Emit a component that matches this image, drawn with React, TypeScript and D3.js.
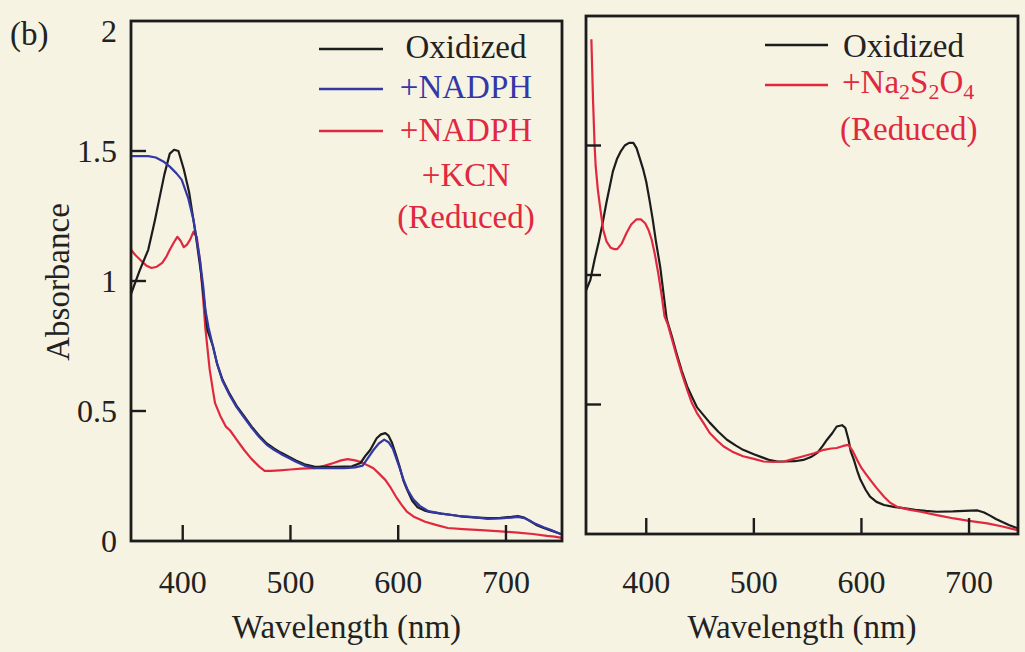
import React from "react";
import { scaleLinear, line } from "d3";

// wavelength (nm), absorbance pairs
const leftOxidized: [number, number][] = [
  [352, 0.95], [360, 1.04], [368, 1.12], [374, 1.23], [378, 1.31], [383, 1.41],
  [388, 1.49], [392, 1.505], [396, 1.5], [401, 1.43], [406, 1.34], [412, 1.18],
  [417, 1.03], [420, 0.92], [423, 0.81], [428, 0.75], [432, 0.68], [437, 0.62],
  [443, 0.57], [450, 0.52], [457, 0.48], [464, 0.44], [471, 0.405], [478, 0.375],
  [485, 0.355], [491, 0.34], [498, 0.325], [505, 0.31], [513, 0.295], [522, 0.286],
  [530, 0.285], [540, 0.285], [550, 0.286], [557, 0.287], [565, 0.3], [570, 0.33],
  [574, 0.35], [580, 0.395], [584, 0.41], [588, 0.415], [591, 0.405], [594, 0.38],
  [598, 0.33], [601, 0.29], [605, 0.23], [608, 0.2], [613, 0.155], [618, 0.13],
  [624, 0.118], [629, 0.112], [640, 0.105], [650, 0.1], [660, 0.094], [670, 0.091],
  [683, 0.088], [695, 0.089], [705, 0.093], [711, 0.096], [717, 0.09], [722, 0.078],
  [728, 0.062], [735, 0.05], [742, 0.04], [749, 0.03], [752, 0.025],
];

const leftNadph: [number, number][] = [
  [352, 1.48], [360, 1.48], [368, 1.48], [375, 1.475], [382, 1.46], [388, 1.44],
  [394, 1.415], [399, 1.39], [405, 1.32], [410, 1.235], [416, 1.08], [419, 0.98],
  [421, 0.89], [424, 0.82], [428, 0.75], [432, 0.68], [437, 0.615], [443, 0.565],
  [450, 0.515], [457, 0.475], [464, 0.435], [471, 0.4], [478, 0.37], [485, 0.35],
  [491, 0.335], [498, 0.32], [505, 0.305], [513, 0.29], [522, 0.28], [530, 0.28],
  [540, 0.28], [550, 0.28], [560, 0.283], [567, 0.29], [572, 0.32], [577, 0.35],
  [582, 0.375], [587, 0.39], [591, 0.38], [595, 0.355], [598, 0.32], [601, 0.285],
  [605, 0.235], [609, 0.195], [614, 0.16], [620, 0.135], [628, 0.115], [640, 0.105],
  [655, 0.097], [670, 0.092], [683, 0.085], [695, 0.087], [705, 0.09], [711, 0.093],
  [717, 0.088], [722, 0.078], [728, 0.065], [735, 0.053], [742, 0.042], [749, 0.03],
  [752, 0.025],
];

const leftKcn: [number, number][] = [
  [352, 1.12], [356, 1.1], [361, 1.08], [366, 1.06], [371, 1.05], [376, 1.055],
  [381, 1.07], [385, 1.095], [388, 1.12], [392, 1.15], [395, 1.17], [398, 1.155],
  [401, 1.13], [404, 1.14], [407, 1.16], [410, 1.19], [413, 1.17], [416, 1.08],
  [419, 0.93], [421, 0.82], [423, 0.74], [425, 0.66], [428, 0.58], [430, 0.53],
  [435, 0.48], [440, 0.44], [444, 0.425], [450, 0.39], [457, 0.35], [464, 0.315],
  [471, 0.286], [476, 0.27], [482, 0.27], [490, 0.272], [500, 0.275], [510, 0.278],
  [522, 0.28], [532, 0.29], [540, 0.3], [547, 0.31], [553, 0.315], [560, 0.31],
  [566, 0.303], [572, 0.29], [577, 0.28], [582, 0.26], [588, 0.235], [593, 0.205],
  [598, 0.17], [603, 0.14], [608, 0.113], [615, 0.092], [625, 0.074], [635, 0.062],
  [646, 0.05], [660, 0.046], [677, 0.042], [695, 0.037], [711, 0.032], [725, 0.027],
  [738, 0.02], [745, 0.017], [752, 0.012],
];

const rightOxidized: [number, number][] = [
  [344, 0.94], [348, 0.98], [352, 1.06], [356, 1.13], [359, 1.19], [363, 1.28],
  [366, 1.34], [369, 1.4], [373, 1.45], [376, 1.475], [380, 1.5], [384, 1.51],
  [388, 1.51], [391, 1.49], [394, 1.45], [397, 1.41], [400, 1.36], [403, 1.29],
  [406, 1.215], [409, 1.13], [413, 1.03], [416, 0.93], [419, 0.83], [424, 0.76],
  [428, 0.7], [433, 0.63], [438, 0.57], [443, 0.525], [447, 0.49], [453, 0.46],
  [459, 0.43], [467, 0.395], [475, 0.364], [483, 0.342], [490, 0.325], [500, 0.308],
  [509, 0.294], [515, 0.285], [522, 0.28], [530, 0.28], [538, 0.281], [546, 0.286],
  [553, 0.297], [559, 0.313], [564, 0.34], [568, 0.364], [573, 0.39], [577, 0.415],
  [582, 0.42], [585, 0.41], [588, 0.364], [590, 0.32], [593, 0.286], [596, 0.245],
  [599, 0.21], [604, 0.17], [608, 0.144], [614, 0.124], [621, 0.112], [630, 0.105],
  [639, 0.1], [650, 0.093], [660, 0.089], [670, 0.086], [685, 0.087], [701, 0.09],
  [708, 0.091], [714, 0.083], [720, 0.07], [725, 0.058], [730, 0.048], [737, 0.035],
  [745, 0.022],
];

const rightReduced: [number, number][] = [
  [349, 1.91], [350.5, 1.68], [352, 1.5], [353, 1.42], [355, 1.33], [357, 1.265],
  [360, 1.175], [363, 1.13], [367, 1.105], [370, 1.1], [373, 1.1], [377, 1.12],
  [382, 1.165], [386, 1.195], [391, 1.215], [395, 1.215], [399, 1.2], [402, 1.175],
  [405, 1.137], [408, 1.08], [411, 1.01], [414, 0.93], [417, 0.84], [420, 0.81],
  [424, 0.75], [428, 0.69], [433, 0.62], [438, 0.557], [442, 0.51], [447, 0.468],
  [453, 0.43], [459, 0.39], [466, 0.36], [472, 0.338], [480, 0.318], [490, 0.3],
  [500, 0.29], [509, 0.28], [518, 0.278], [528, 0.28], [537, 0.29], [546, 0.3],
  [556, 0.312], [565, 0.325], [572, 0.33], [577, 0.332], [583, 0.34], [588, 0.344],
  [592, 0.32], [596, 0.286], [600, 0.255], [604, 0.232], [608, 0.21], [614, 0.178],
  [621, 0.144], [627, 0.12], [633, 0.105], [644, 0.094], [655, 0.086], [670, 0.073],
  [686, 0.06], [700, 0.051], [717, 0.041], [730, 0.03], [745, 0.015],
];

const xTicks = [400, 500, 600, 700];
const yTicks = [0, 0.5, 1, 1.5, 2];
const yTickLabels = ["0", "0.5", "1", "1.5", "2"];

const BLACK = "#1c1c1c";
const BLUE = "#3338a6";
const RED = "#e0283f";
const FONT = "'Liberation Serif', 'Times New Roman', serif";

const Panel = ({ x, y, series, showYLabels }) => {
  const [x0, x1] = x.range();
  const [y0, y1] = y.range();
  const path = line<[number, number]>()
    .x((d) => x(d[0]))
    .y((d) => y(d[1]));
  return (
    <g>
      {series.map((s, i) => (
        <path
          key={i}
          d={path(s.data) as string}
          fill="none"
          stroke={s.color}
          strokeWidth={2.2}
          strokeLinejoin="round"
        />
      ))}
      <rect
        x={x0}
        y={y1}
        width={x1 - x0}
        height={y0 - y1}
        fill="none"
        stroke={BLACK}
        strokeWidth={2.8}
      />
      {xTicks.map((t) => (
        <g key={t}>
          <line x1={x(t)} x2={x(t)} y1={y0} y2={y0 - 16} stroke={BLACK} strokeWidth={2.4} />
          <text x={x(t)} y={593} textAnchor="middle" fontSize={32} fill="#222">
            {t}
          </text>
        </g>
      ))}
      {yTicks.slice(1, 4).map((t) => (
        <line key={t} x1={x0} x2={x0 + 15} y1={y(t)} y2={y(t)} stroke={BLACK} strokeWidth={2.4} />
      ))}
      {showYLabels &&
        yTicks.map((t, i) => (
          <text
            key={t}
            x={117}
            y={Math.max(y(t) + 11, 42)}
            textAnchor="end"
            fontSize={32}
            fill="#222"
          >
            {yTickLabels[i]}
          </text>
        ))}
      <text x={(x0 + x1) / 2} y={638} textAnchor="middle" fontSize={33} fill="#222">
        Wavelength (nm)
      </text>
    </g>
  );
};

export default function App() {
  const xLeft = scaleLinear().domain([352, 752]).range([131, 562]);
  const yLeft = scaleLinear().domain([0, 2]).range([541, 21]);
  const xRight = scaleLinear().domain([344, 745.5]).range([586, 1018]);
  const yRight = scaleLinear().domain([0, 2]).range([534, 16]);

  return (
    <svg
      width={1025}
      height={652}
      style={{ position: "absolute", left: 0, top: 0 }}
      fontFamily={FONT}
    >
      <rect width={1025} height={652} fill="#f6f3e3" />
      <text x={10} y={45} fontSize={33} fill="#222">
        (b)
      </text>
      <text
        transform="translate(69,282) rotate(-90)"
        textAnchor="middle"
        fontSize={33}
        fill="#222"
      >
        Absorbance
      </text>

      <Panel
        x={xLeft}
        y={yLeft}
        showYLabels
        series={[
          { data: leftKcn, color: RED },
          { data: leftOxidized, color: BLACK },
          { data: leftNadph, color: BLUE },
        ]}
      />
      <Panel
        x={xRight}
        y={yRight}
        showYLabels={false}
        series={[
          { data: rightOxidized, color: BLACK },
          { data: rightReduced, color: RED },
        ]}
      />

      {/* left legend */}
      <g fontSize={33}>
        <line x1={319} x2={383} y1={49} y2={49} stroke={BLACK} strokeWidth={2.6} />
        <line x1={319} x2={383} y1={89} y2={89} stroke={BLUE} strokeWidth={2.6} />
        <line x1={319} x2={383} y1={131} y2={131} stroke={RED} strokeWidth={2.6} />
        <text x={466} y={58} textAnchor="middle" fill="#222">Oxidized</text>
        <text x={466} y={98} textAnchor="middle" fill={BLUE}>+NADPH</text>
        <text x={466} y={141} textAnchor="middle" fill={RED}>+NADPH</text>
        <text x={466} y={186} textAnchor="middle" fill={RED}>+KCN</text>
        <text x={466} y={228} textAnchor="middle" fill={RED}>(Reduced)</text>
      </g>

      {/* right legend */}
      <g fontSize={33}>
        <line x1={765} x2={828} y1={45} y2={45} stroke={BLACK} strokeWidth={2.6} />
        <line x1={765} x2={828} y1={85} y2={85} stroke={RED} strokeWidth={2.6} />
        <text x={843} y={57} fill="#222">Oxidized</text>
        <text x={842} y={93} fill={RED}>
          +Na<tspan fontSize={22} dy={6}>2</tspan>
          <tspan dy={-6}>S</tspan>
          <tspan fontSize={22} dy={6}>2</tspan>
          <tspan dy={-6}>O</tspan>
          <tspan fontSize={22} dy={6}>4</tspan>
        </text>
        <text x={840} y={140} fill={RED}>(Reduced)</text>
      </g>
    </svg>
  );
}
